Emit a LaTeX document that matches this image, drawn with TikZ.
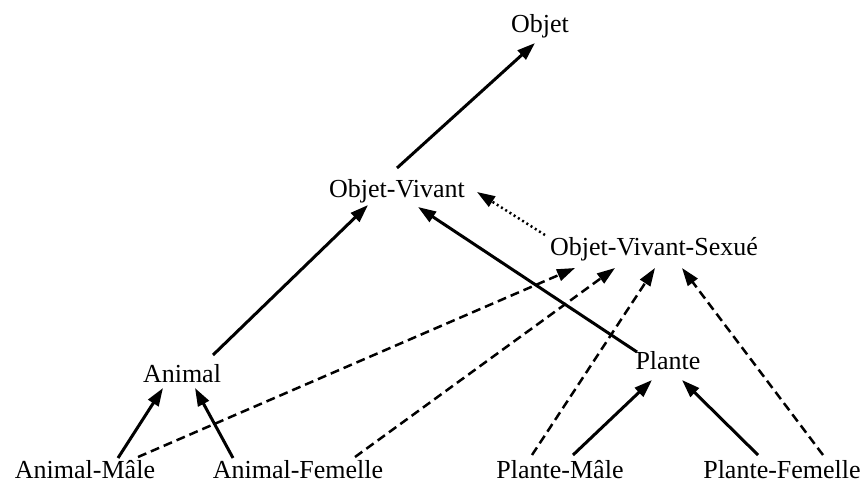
\documentclass[tikz,border=0pt]{standalone}
\usepackage{fontspec}
\setmainfont{Liberation Serif}
\usepackage{tikz}
\usetikzlibrary{arrows.meta}

\begin{document}
\begin{tikzpicture}[x=1pt,y=-1pt]
		\tikzset{> = {Triangle[length=18pt,width=12pt]}}
		\tikzset{classe/.style = {anchor=base,inner sep=0pt,font=\fontsize{26}{30}\selectfont}}
		\tikzset{herite/.style = {->,line width=3pt}}
		\tikzset{sexe/.style = {->,line width=2.5pt,dash pattern=on 9pt off 5pt}}
		\useasboundingbox (0,0) rectangle (867,484);
		% les classes
		\node[classe] (objet) at (540,33) {Objet};
		\node[classe] (ov) at (397,197) {Objet-Vivant};
		\node[classe] (ovs) at (654,255) {Objet-Vivant-Sexué};
		\node[classe] (animal) at (182,382) {Animal};
		\node[classe] (plante) at (668,369) {Plante};
		\node[classe] (am) at (85,478) {Animal-Mâle};
		\node[classe] (af) at (298,478) {Animal-Femelle};
		\node[classe] (pm) at (560,478) {Plante-Mâle};
		\node[classe] (pf) at (782,478) {Plante-Femelle};
		% heritage simple
		\draw[herite] ([shift={(0,-29)}]ov.base) -- ([shift={(-5,10)}]objet.base);
		\draw[herite] ([shift={(31,-27)}]animal.base) -- ([shift={(-29,8)}]ov.base);
		\draw[herite] ([shift={(-31,-17)}]plante.base) -- ([shift={(21,10)}]ov.base);
		\draw[herite] ([shift={(33,-20)}]am.base) -- ([shift={(-19,6)}]animal.base);
		\draw[herite] ([shift={(-65,-20)}]af.base) -- ([shift={(13,6)}]animal.base);
		\draw[herite] ([shift={(13,-23)}]pm.base) -- ([shift={(-16,11)}]plante.base);
		\draw[herite] ([shift={(-24,-23)}]pf.base) -- ([shift={(14,11)}]plante.base);
		% pointille
		\draw[->,line width=2.5pt,dash pattern=on 2pt off 3pt] ([shift={(-109,-20)}]ovs.base) -- ([shift={(80,-5)}]ov.base);
		% tirets vers Objet-Vivant-Sexue
		\draw[sexe] ([shift={(53,-21)}]am.base) -- ([shift={(-79,13)}]ovs.base);
		\draw[sexe] ([shift={(57,-21)}]af.base) -- ([shift={(-39,13)}]ovs.base);
		\draw[sexe] ([shift={(-28,-23)}]pm.base) -- ([shift={(1,13)}]ovs.base);
		\draw[sexe] ([shift={(41,-23)}]pf.base) -- ([shift={(28,13)}]ovs.base);
	\end{tikzpicture}
\end{document}
